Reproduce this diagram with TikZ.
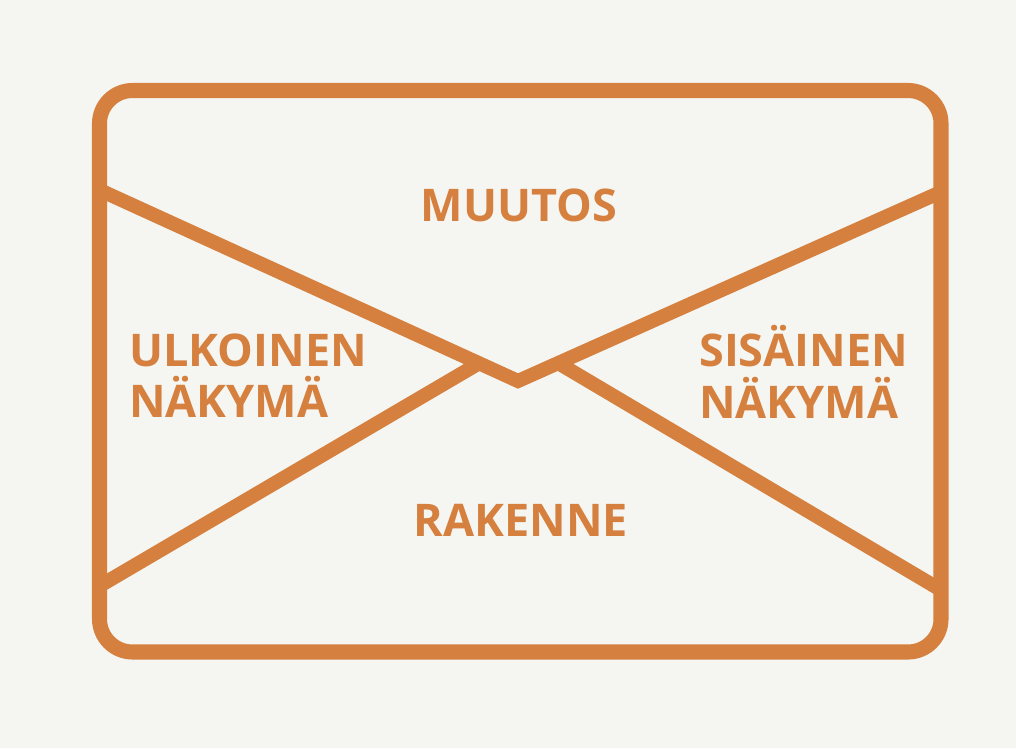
\documentclass[tikz,border=0pt]{standalone}
\usepackage{fontspec}
\setmainfont{Open Sans}
\usepackage{tikz}
\usepackage{xcolor}
\usetikzlibrary{positioning,calc}

\definecolor{envorange}{RGB}{213,128,62}
\definecolor{paper}{RGB}{245,245,241}

\tikzset{
  frameline/.style={draw=envorange, line width=10.7pt, rounded corners=0.825cm},
  foldline/.style={draw=envorange, line width=10pt},
  lbl/.style={text=envorange, inner sep=0pt, font=\bfseries\fontsize{32}{36.5}\selectfont}
}

\begin{document}
\begin{tikzpicture}[x=0.025cm,y=-0.025cm]
\fill [paper] (0,0) rectangle (1016,748);
\useasboundingbox (0,0) rectangle (1016,748);
\coordinate (L1) at (99.5,190);
\coordinate (M) at (518,381);
\coordinate (R1) at (941,192);
\coordinate (L2) at (99.5,586);
\coordinate (R2) at (941,590);
\coordinate (ML) at ($(M)!0.093!(L1)$);
\coordinate (MR) at ($(M)!0.095!(R1)$);
\draw [foldline] (L1) -- (M) -- (R1);
\draw [foldline] (L2) -- (ML);
\draw [foldline] (R2) -- (MR);
\draw [frameline] (99.5,90.5) rectangle (941,652);
\node [lbl] (muutos) at (519,205) {MUUTOS};
\node [lbl] (rakenne) at (521,520) {RAKENNE};
\node [lbl, align=left, anchor=west] (ulkoinen) at (129,376) {ULKOINEN\\NÄKYMÄ};
\node [lbl, align=left, anchor=west] (sisainen) at (699,372) {SISÄINEN\\NÄKYMÄ};
\end{tikzpicture}
\end{document}
